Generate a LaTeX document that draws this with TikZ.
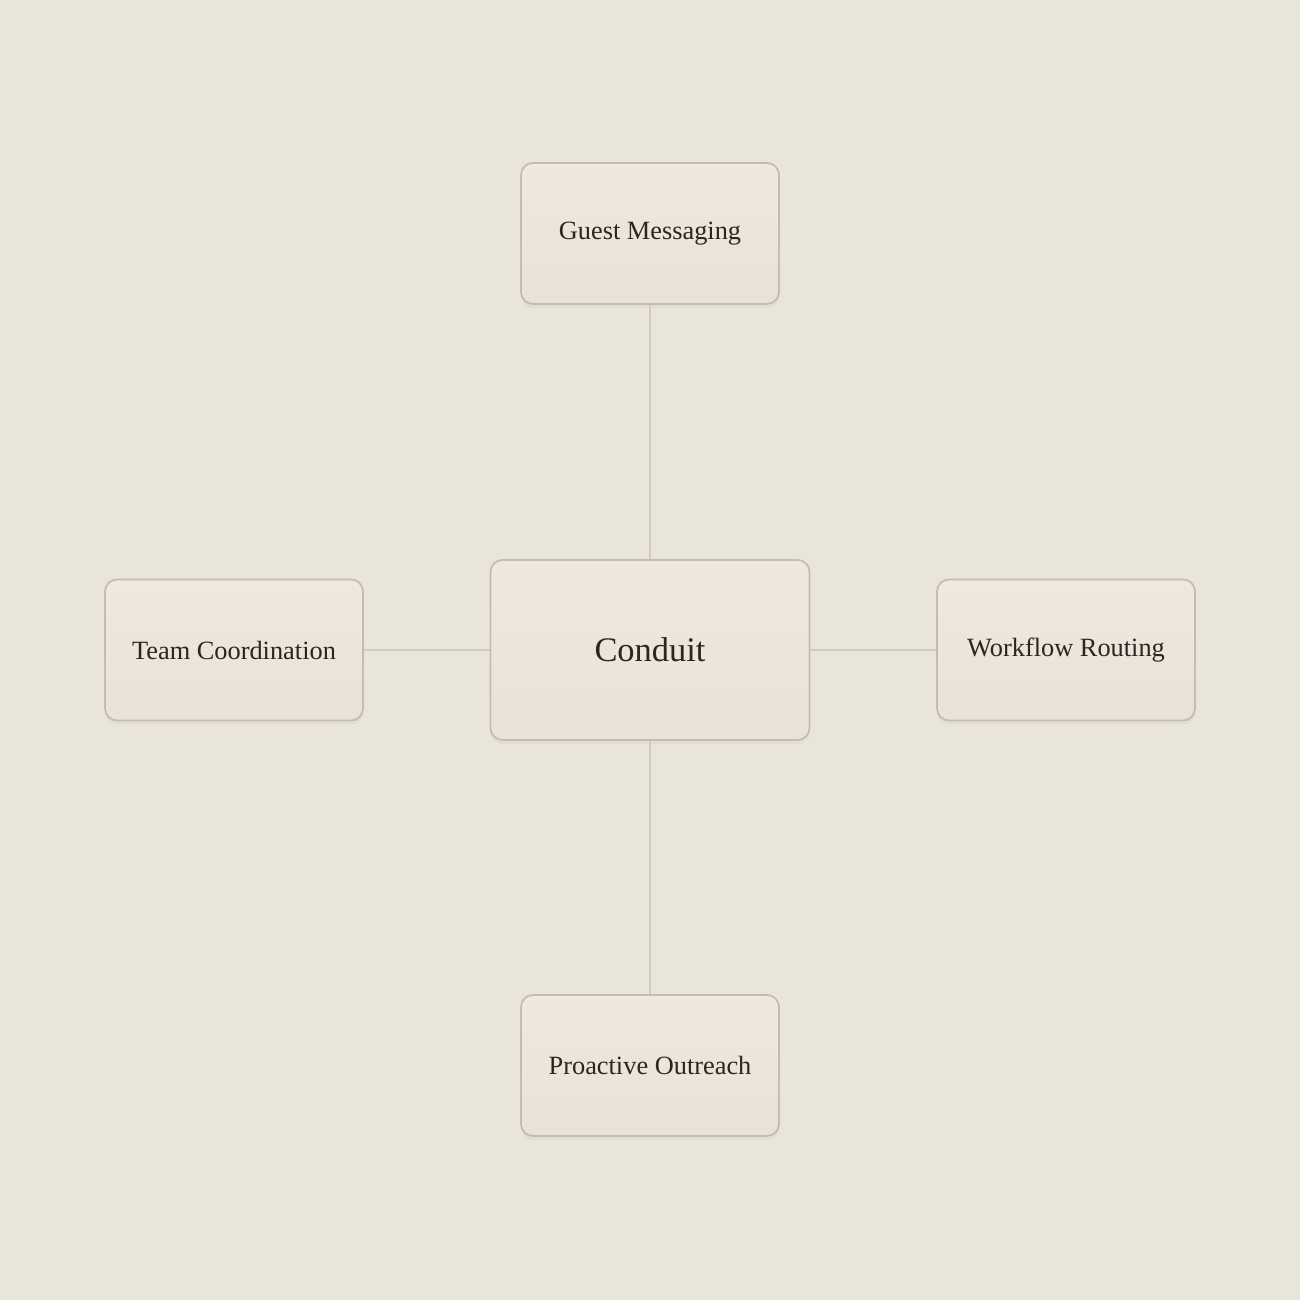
\documentclass[tikz,border=0pt]{standalone}
\usepackage{fontspec}
\setmainfont{Liberation Serif}
\usetikzlibrary{shadows}
\definecolor{bgcol}{HTML}{EAE5DB}
\definecolor{boxtop}{HTML}{EEE8DF}
\definecolor{boxbot}{HTML}{E9E2D7}
\definecolor{edgecol}{HTML}{C5BCB1}
\definecolor{linkcol}{HTML}{D2CBC1}
\definecolor{inkcol}{HTML}{2A2620}
\tikzset{
  card/.style={draw=edgecol, line width=0.5pt, rounded corners=0.12cm,
    top color=boxtop, bottom color=boxbot, text=inkcol,
    drop shadow={shadow xshift=0pt, shadow yshift=-0.04cm, opacity=0.08},
    minimum width=2.58cm, minimum height=1.41cm,
    font=\fontsize{7.5}{9}\selectfont},
  hub/.style={card, minimum width=3.19cm, minimum height=1.8cm,
    font=\fontsize{9.8}{12}\selectfont},
  link/.style={draw=linkcol, line width=0.5pt}
}
\begin{document}
\begin{tikzpicture}
      \fill[bgcol] (0,0) rectangle (13,13);
      \useasboundingbox (0,0) rectangle (13,13);
      \node[hub] (conduit) at (6.5,6.5) {Conduit};
      \node[card] (guest) at (6.5,10.665) {Guest Messaging};
      \node[card] (outreach) at (6.5,2.345) {Proactive Outreach};
      \node[card] (team) at (2.34,6.5) {Team Coordination};
      \node[card] (routing) at (10.66,6.5) {Workflow Routing};
      \draw[link] (conduit.north) -- (guest.south);
      \draw[link] (conduit.south) -- (outreach.north);
      \draw[link] (conduit.west) -- (team.east);
      \draw[link] (conduit.east) -- (routing.west);
    \end{tikzpicture}
\end{document}
